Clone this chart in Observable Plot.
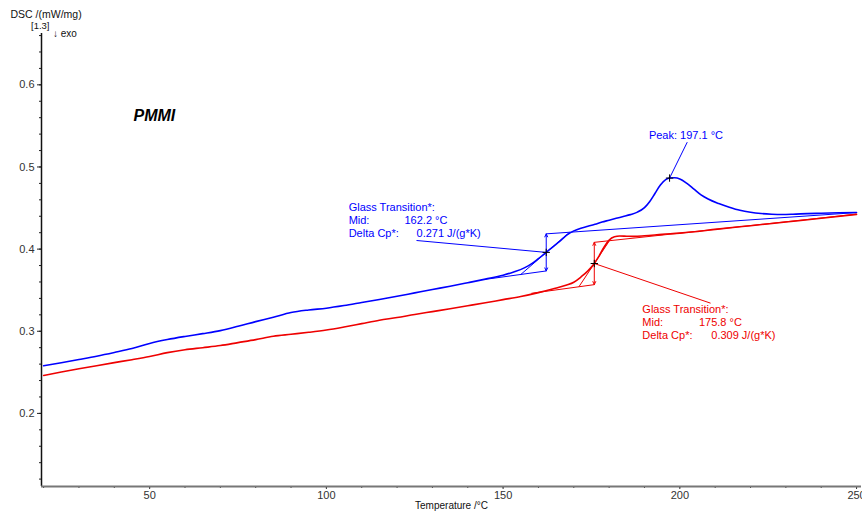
<!DOCTYPE html>
<html>
<head>
<meta charset="utf-8">
<script src="https://cdn.jsdelivr.net/npm/d3@7"></script>
<script src="https://cdn.jsdelivr.net/npm/@observablehq/plot@0.6"></script>
<style>
  html, body { margin: 0; padding: 0; background: #fff; overflow: hidden; }
  #chart { width: 862px; height: 511px; }
</style>
</head>
<body>
<div id="chart"></div>
<script>
// DSC heating curves of PMMI, signal in mW/mg (exo down)
const tempBlue = [20, 25, 30, 35, 40, 45, 50, 55, 60, 65, 70, 75, 80, 85, 90, 95, 100, 105, 110, 115, 120, 125, 130, 135, 140, 145, 150, 153, 156, 158, 160, 162.2, 164, 166, 168, 170, 172, 174, 176, 178, 180, 182, 184, 186, 188, 190, 191.5, 193, 194.5, 196, 197.1, 198.5, 200, 202, 204, 206, 208, 211, 214, 217, 220, 223, 226, 229, 232, 236, 240, 245, 250];
const dscBlue  = [0.2580, 0.2617, 0.2656, 0.2696, 0.2741, 0.2789, 0.2852, 0.2899, 0.2937, 0.2971, 0.3008, 0.3060, 0.3117, 0.3171, 0.3228, 0.3259, 0.3281, 0.3313, 0.3350, 0.3387, 0.3426, 0.3467, 0.3508, 0.3548, 0.3591, 0.3635, 0.3682, 0.3722, 0.3772, 0.3820, 0.3885, 0.3960, 0.4025, 0.4095, 0.4170, 0.4222, 0.4255, 0.4278, 0.4302, 0.4330, 0.4352, 0.4375, 0.4397, 0.4420, 0.4450, 0.4505, 0.4580, 0.4680, 0.4780, 0.4845, 0.4865, 0.4868, 0.4855, 0.4800, 0.4730, 0.4660, 0.4610, 0.4555, 0.4510, 0.4472, 0.4448, 0.4433, 0.4425, 0.4422, 0.4425, 0.4432, 0.4437, 0.4442, 0.4445];

const tempRed = [20, 25, 30, 35, 40, 45, 50, 55, 60, 65, 70, 75, 80, 85, 90, 95, 100, 105, 110, 115, 120, 125, 130, 135, 140, 145, 150, 155, 160, 164, 168, 170, 172, 174, 175.8, 177, 178.5, 180, 181.5, 183, 185, 187, 190, 195, 200, 205, 210, 220, 230, 240, 250];
const dscRed  = [0.2462, 0.2503, 0.2543, 0.2581, 0.2618, 0.2654, 0.2693, 0.2740, 0.2775, 0.2800, 0.2826, 0.2862, 0.2898, 0.2939, 0.2963, 0.2987, 0.3015, 0.3052, 0.3093, 0.3134, 0.3167, 0.3205, 0.3239, 0.3273, 0.3310, 0.3347, 0.3385, 0.3423, 0.3470, 0.3514, 0.3562, 0.3597, 0.3660, 0.3735, 0.3825, 0.3905, 0.4020, 0.4110, 0.4150, 0.4160, 0.4157, 0.4155, 0.4162, 0.4180, 0.4195, 0.4215, 0.4240, 0.4285, 0.4330, 0.4375, 0.4423];

const seriesColor = ["#0000ff", "#ee0000"];

// glass transition evaluation (blue, red)
const heatingRate = 10;                 // K/min
const transitionMid = [162.2, 175.8];   // °C
const transitionSignal = [0.3960, 0.3825];
const deltaCp = [0.271, 0.309];         // J/(g*K)
const lowerBaseFrom = [145, 158];
const lowerBaseFromSignal = [0.3632, 0.3462];
const upperBaseTo = [250, 250];
const upperBaseToSignal = [0.4445, 0.4425];
const tangentFrom = [155.0, 171.45];
const tangentFromSignal = [0.3691, 0.3542];
const tangentTo = [168.8, 180.1];
const tangentToSignal = [0.4205, 0.4103];

// label placement (°C, mW/mg)
const labelX = [106.3, 189.4];
const labelY = [0.4507, 0.3261];
const midValueX = [122.1, 205.4];
const cpValueX = [125.5, 208.9];
const leaderX = [125.5, 208.7];
const leaderY = [0.4105, 0.3342];

// peak evaluation
const peakTemp = [197.1];
const peakSignal = [0.4865];
const peakLabelX = [191.25];
const peakLabelY = [0.5383];
const peakLeaderX = [202.1];
const peakLeaderY = [0.5302];

// tick values
const xMajor = [50, 100, 150, 200, 250];
const xMinor = d3.range(20, 251, 10);
const yMajor = [0.2, 0.3, 0.4, 0.5, 0.6];
const yMinor = d3.range(12, 67, 2).map(v => v / 100);

const curves = [
  ...tempBlue.map((t, i) => ({t, v: dscBlue[i], s: 0})),
  ...tempRed.map((t, i) => ({t, v: dscRed[i], s: 1}))
];

const steps = transitionMid.map((t, i) => {
  const half = deltaCp[i] * heatingRate / 60 / 2;
  return {
    s: i,
    t,
    mid: transitionSignal[i],
    low: transitionSignal[i] - half,
    high: transitionSignal[i] + half,
    cp: deltaCp[i]
  };
});

const baselines = steps.flatMap(d => [
  {s: d.s, x1: lowerBaseFrom[d.s], y1: lowerBaseFromSignal[d.s], x2: d.t, y2: d.low},
  {s: d.s, x1: d.t, y1: d.high, x2: upperBaseTo[d.s], y2: upperBaseToSignal[d.s]},
  {s: d.s, x1: tangentFrom[d.s], y1: tangentFromSignal[d.s], x2: tangentTo[d.s], y2: tangentToSignal[d.s]},
  {s: d.s, x1: leaderX[d.s], y1: leaderY[d.s], x2: d.t, y2: d.mid}
]);

const arrows = steps.flatMap(d => [
  {s: d.s, x1: d.t, y1: d.mid, x2: d.t, y2: d.high},
  {s: d.s, x1: d.t, y1: d.mid, x2: d.t, y2: d.low}
]);

const labels = steps.map(d => ({
  s: d.s,
  x: labelX[d.s],
  y: labelY[d.s],
  xMid: midValueX[d.s],
  xCp: cpValueX[d.s],
  mid: `${d.t.toFixed(1)} °C`,
  cp: `${d.cp.toFixed(3)} J/(g*K)`
}));

const peaks = peakTemp.map((t, i) => ({
  t, v: peakSignal[i], lx: peakLabelX[i], ly: peakLabelY[i], qx: peakLeaderX[i], qy: peakLeaderY[i]
}));

const markers = [
  ...steps.map(d => ({t: d.t, v: d.mid})),
  ...peaks.map(d => ({t: d.t, v: d.v}))
];

const col = d => seriesColor[d.s];
const font = "'Liberation Sans', Arial, Helvetica, sans-serif";

const chart = Plot.plot({
  width: 862,
  height: 511,
  marginLeft: 41,
  marginRight: 1,
  marginTop: 33,
  marginBottom: 25,
  x: {domain: [19.4, 251.4]},
  y: {domain: [0.111, 0.6625]},
  style: {fontFamily: font, fontSize: "11px", color: "#333", background: "#fff", overflow: "visible"},
  marks: [
    // axes
    Plot.axisY(yMinor, {tickSize: 2, tickFormat: () => "", label: null, stroke: "#222"}),
    Plot.axisY(yMajor, {tickSize: 4, tickPadding: 3, tickFormat: d3.format(".1f"), label: null, stroke: "#222", fill: "#333", fontSize: 11}),
    Plot.axisX(xMinor, {tickSize: 2, tickFormat: () => "", label: null, stroke: "#333"}),
    Plot.axisX(xMajor, {tickSize: 3, tickPadding: 2, tickFormat: d => String(d), label: null, stroke: "#333", fill: "#333", fontSize: 11}),
    Plot.ruleX([19.4], {stroke: "#111", strokeWidth: 1.5}),
    Plot.ruleY([0.111], {stroke: "#777", strokeWidth: 2}),

    // evaluation constructions
    Plot.link(baselines, {x1: "x1", y1: "y1", x2: "x2", y2: "y2", stroke: col, strokeWidth: 1}),
    Plot.arrow(arrows, {x1: "x1", y1: "y1", x2: "x2", y2: "y2", stroke: col, strokeWidth: 1, headLength: 5, headAngle: 50}),
    Plot.link(peaks, {x1: "qx", y1: "qy", x2: "t", y2: "v", stroke: seriesColor[0], strokeWidth: 1}),

    // measured curves
    Plot.line(curves, {x: "t", y: "v", z: "s", stroke: col, strokeWidth: 1.6, curve: "monotone-x"}),

    Plot.dot(markers, {x: "t", y: "v", symbol: "plus", r: 2.5, stroke: "#000", strokeWidth: 1}),

    // annotation texts
    Plot.text(labels, {x: "x", y: "y", text: () => "Glass Transition*:", textAnchor: "start", fill: col, fontSize: 11}),
    Plot.text(labels, {x: "x", y: "y", dy: 13, text: () => "Mid:", textAnchor: "start", fill: col, fontSize: 11}),
    Plot.text(labels, {x: "xMid", y: "y", dy: 13, text: "mid", textAnchor: "start", fill: col, fontSize: 11}),
    Plot.text(labels, {x: "x", y: "y", dy: 26, text: () => "Delta Cp*:", textAnchor: "start", fill: col, fontSize: 11}),
    Plot.text(labels, {x: "xCp", y: "y", dy: 26, text: "cp", textAnchor: "start", fill: col, fontSize: 11}),
    Plot.text(peaks, {x: "lx", y: "ly", text: d => `Peak: ${d.t.toFixed(1)} °C`, textAnchor: "start", fill: seriesColor[0], fontSize: 11}),

    // sample name, signal unit and axis title
    Plot.text(["PMMI"], {frameAnchor: "top-left", dx: 92, dy: 82, lineAnchor: "middle", textAnchor: "start", fontSize: 16, fontWeight: "bold", fontStyle: "italic", fill: "#000"}),
    Plot.text(["DSC /(mW/mg)"], {frameAnchor: "top-left", dx: -31, dy: -18.5, lineAnchor: "middle", textAnchor: "start", fontSize: 10.5, fill: "#111"}),
    Plot.text(["[1.3]"], {frameAnchor: "top-left", dx: -10.5, dy: -7.5, lineAnchor: "middle", textAnchor: "start", fontSize: 9.5, fill: "#111"}),
    Plot.text(["↓ exo"], {frameAnchor: "top-left", dx: 11.5, dy: 0, lineAnchor: "middle", textAnchor: "start", fontSize: 10, fill: "#111"}),
    Plot.text(["Temperature /°C"], {frameAnchor: "bottom", dy: 19, lineAnchor: "middle", fontSize: 10, fill: "#111"})
  ]
});

document.getElementById("chart").append(chart);
</script>
</body>
</html>
